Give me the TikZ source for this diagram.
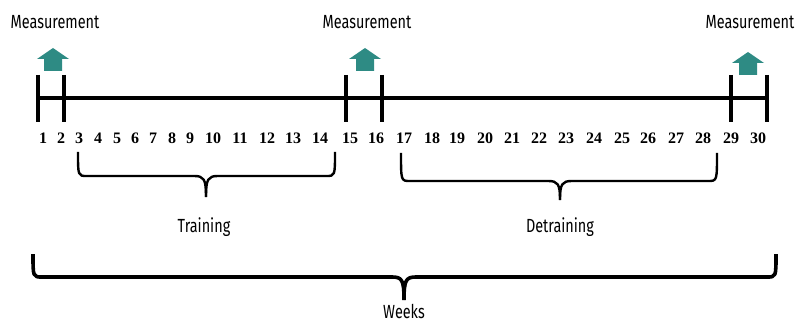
\documentclass[tikz,border=0pt]{standalone}
\usepackage{fontspec}
\usepackage{graphicx}
\setmainfont{Fira Sans}
\newfontfamily\numfont{Liberation Serif}
\definecolor{tealarr}{HTML}{2E8B84}
\tikzset{
  tick/.style={line width=3.2pt},
  axis/.style={line width=3.2pt},
  brace/.style={line width=2.4pt, line join=round},
  bigbrace/.style={line width=3.6pt, line join=round},
  numlab/.style={font=\numfont\bfseries\fontsize{16}{16}\selectfont, inner sep=0pt, anchor=base},
  lab/.style={font=\fontsize{19}{19}\selectfont, inner sep=0pt, anchor=base},
  uparrow/.style={fill=tealarr, draw=none},
}
\newcommand{\cond}[1]{\scalebox{0.76}[1]{#1}}
\begin{document}
\begin{tikzpicture}[x=1pt,y=-1pt]
\useasboundingbox (0,0) rectangle (797,323);
% labels Measurement
\node[lab] (m1) at (55,29) {\cond{Measurement}};
\node[lab] (m2) at (367,29) {\cond{Measurement}};
\node[lab] (m3) at (750,29) {\cond{Measurement}};
% arrows
\foreach \n/\x/\y in {a1/53/48, a2/365/48, a3/748/52}{
  \fill[uparrow] (\x-16,\y+11) -- (\x,\y) -- (\x+16,\y+11) -- (\x+9,\y+11) -- (\x+9,\y+23) -- (\x-9,\y+23) -- (\x-9,\y+11) -- cycle;
}
% timeline
\coordinate (L) at (38,98);
\coordinate (R) at (767,98);
\draw[axis] (L) -- (R);
\foreach \x in {38,64,346,382,731,767}{
  \draw[tick] (\x,75) -- (\x,122);
}
% numbers
\foreach \x [count=\i] in {43,61,79,98,117,135,153,172,190,213,240,267,293,320,350,376,404,432,457,485,512,539,566,594,622,648,676,703,731,758}{
  \node[numlab] (n\i) at (\x,144) {\i};
}
% braces
\newcommand{\drawbrace}[7]{%
  \draw[#1] (#2,#5) .. controls (#2,#6) and (#2,#6) .. (#2+9,#6) -- (#4-12,#6) .. controls (#4-2,#6) and (#4,#6+3) .. (#4,#7);
  \draw[#1] (#3,#5) .. controls (#3,#6) and (#3,#6) .. (#3-9,#6) -- (#4+12,#6) .. controls (#4+2,#6) and (#4,#6+3) .. (#4,#7);
}
\drawbrace{brace}{78}{335}{206}{152}{176}{197}
\drawbrace{brace}{401}{717}{560}{153}{181}{200}
\drawbrace{bigbrace}{33}{776}{404}{254}{277}{300}
\node[lab] (tr) at (204,232) {\cond{Training}};
\node[lab] (dt) at (560,232) {\cond{Detraining}};
\node[lab] (wk) at (404,318) {\cond{Weeks}};
\end{tikzpicture}
\end{document}
